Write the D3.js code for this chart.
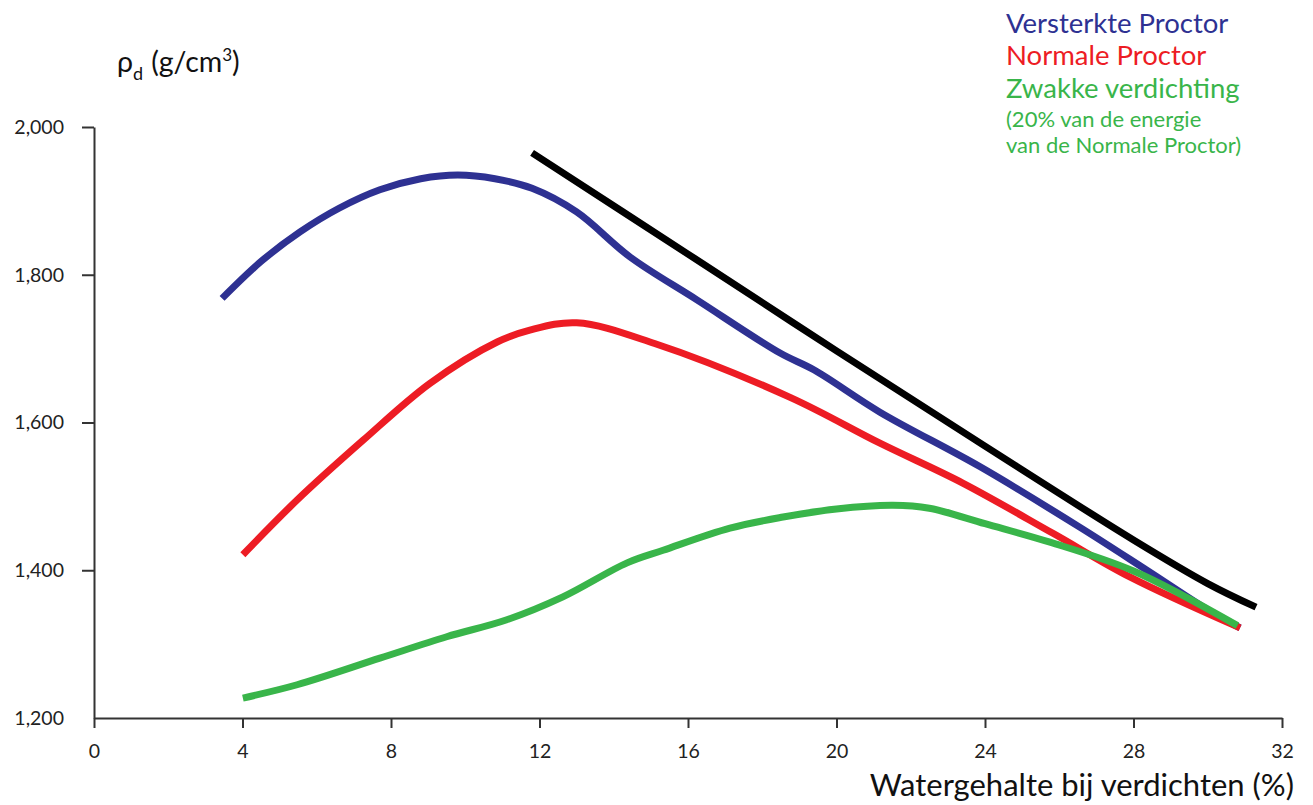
<!DOCTYPE html>
<html>
<head>
<meta charset="utf-8">
<script src="https://cdn.jsdelivr.net/npm/d3@7"></script>
<style>
  body { margin: 0; background: #fff; }
  svg { font-family: Lato, "Open Sans", sans-serif; }
</style>
</head>
<body>
<div id="chart"></div>
<script>
// data: [water content %, dry density]
var versterkte = [[3.45,1768],[4.5,1818],[5.55,1858],[6.6,1890],[7.7,1915],[8.8,1930],
  [9.8,1935],[10.8,1930],[11.8,1917],[13.0,1885],[14.44,1824],[16.24,1766],
  [18.48,1694],[19.4,1671],[21.17,1614],[23.87,1540],[26.56,1458],[28.36,1400],
  [30.14,1342],[30.87,1322]];
var normale = [[4.01,1421],[5.47,1495],[7.25,1576],[9.05,1653],[10.86,1709],[11.74,1725],
  [13.0,1735],[15.1,1707],[18.75,1634],[21.17,1572],[23.4,1518],[25.83,1450],
  [27.9,1391],[30.87,1322]];
var zwakke = [[4.01,1227],[5.47,1245],[7.7,1281],[9.5,1310],[11.12,1333],[12.63,1364],
  [14.36,1410],[15.33,1427],[17.13,1457],[18.56,1472],[20,1483],[21.52,1488],
  [22.5,1484],[24,1463],[25.75,1438],[28,1399],[30.8,1325]];
var verzadiging = [[11.8,1965],[16,1828],[20,1697],[24,1568],[28,1441],[30,1382],[31.3,1350]];

var xTicks = [0, 4, 8, 12, 16, 20, 24, 28, 32];
var yTicks = [1200, 1400, 1600, 1800, 2000];

var width = 1313, height = 805;
var margin = {top: 127, right: 31, bottom: 87, left: 94};

var svg = d3.select("#chart")
  .append("svg")
    .attr("width", width)
    .attr("height", height);

var x = d3.scaleLinear()
  .domain([0, 32])
  .range([margin.left, width - margin.right]);

var y = d3.scaleLinear()
  .domain([1200, 2000])
  .range([height - margin.bottom, margin.top]);

// X axis
var xAxis = svg.append("g")
  .attr("transform", "translate(0," + y(1200) + ")")
  .call(d3.axisBottom(x).tickValues(xTicks).tickSize(10).tickSizeOuter(0).tickPadding(16));

// Y axis
var yAxis = svg.append("g")
  .attr("transform", "translate(" + x(0) + ",0)")
  .call(d3.axisLeft(y).tickValues(yTicks).tickSize(12).tickSizeOuter(0).tickPadding(18)
    .tickFormat(d3.format(",")));

[xAxis, yAxis].forEach(function(g) {
  g.selectAll("path, line").attr("stroke", "#333").attr("stroke-width", 2);
  g.selectAll("text").attr("fill", "#222").attr("font-size", 19.5).attr("font-family", "Lato");
});
yAxis.selectAll(".tick").filter(function(d) { return d === 1200; }).select("line").remove();

var line = d3.line()
  .x(function(d) { return x(d[0]); })
  .y(function(d) { return y(d[1]); })
  .curve(d3.curveCatmullRom.alpha(0.5));

var series = [
  {data: versterkte, color: "#2e3192"},
  {data: normale, color: "#ed1c24"},
  {data: zwakke, color: "#39b54a"},
  {data: verzadiging, color: "#000000"}
];

svg.selectAll(".curve")
  .data(series)
  .enter().append("path")
    .attr("class", "curve")
    .attr("d", function(d) { return line(d.data); })
    .attr("fill", "none")
    .attr("stroke", function(d) { return d.color; })
    .attr("stroke-width", 7);

// y label
var yl = svg.append("text")
  .attr("x", 117)
  .attr("y", 72)
  .attr("font-size", 28.5)
  .attr("fill", "#111");
yl.append("tspan").text("ρ");
yl.append("tspan").attr("font-size", 18).attr("dy", 8).text("d");
yl.append("tspan").attr("dy", -8).attr("dx", 8).text("(g/cm");
yl.append("tspan").attr("font-size", 17).attr("dy", -11).text("3");
yl.append("tspan").attr("dy", 11).text(")");

// x label
svg.append("text")
  .attr("x", 1294)
  .attr("y", 796)
  .attr("text-anchor", "end")
  .attr("font-size", 31)
  .attr("fill", "#111")
  .text("Watergehalte bij verdichten (%)");

// legend
var legend = [
  {text: "Versterkte Proctor", color: "#2e3192", y: 33, size: 27.5},
  {text: "Normale Proctor", color: "#ed1c24", y: 65, size: 27.5},
  {text: "Zwakke verdichting", color: "#39b54a", y: 98, size: 27.5},
  {text: "(20% van de energie", color: "#39b54a", y: 127, size: 22},
  {text: "van de Normale Proctor)", color: "#39b54a", y: 153, size: 22}
];
svg.selectAll(".legend")
  .data(legend)
  .enter().append("text")
    .attr("class", "legend")
    .attr("x", 1006)
    .attr("y", function(d) { return d.y; })
    .attr("font-size", function(d) { return d.size; })
    .attr("fill", function(d) { return d.color; })
    .text(function(d) { return d.text; });
</script>
</body>
</html>
